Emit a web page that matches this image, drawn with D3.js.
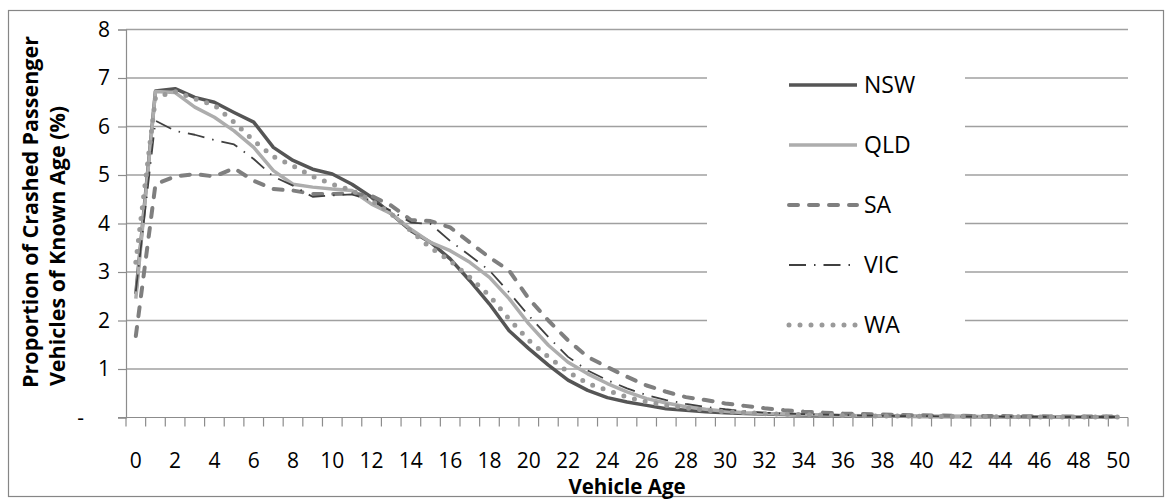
<!DOCTYPE html>
<html>
<head>
<meta charset="utf-8">
<script src="https://cdn.jsdelivr.net/npm/d3@7"></script>
<style>
  body { margin: 0; background: #fff; }
  text { font-family: "Open Sans", "Noto Sans", sans-serif; fill: #000; }
</style>
</head>
<body>
<svg id="chart" width="1170" height="499"></svg>
<script>
// vehicle age categories 0..50
const ages = d3.range(0, 51);
const yTicks = [0, 1, 2, 3, 4, 5, 6, 7, 8];

const nsw = [2.55, 6.73, 6.78, 6.60, 6.50, 6.29, 6.09, 5.57, 5.30, 5.12, 5.02, 4.81, 4.54, 4.20, 3.85,
  3.61, 3.27, 2.82, 2.34, 1.79, 1.42, 1.08, 0.77, 0.56, 0.41, 0.32, 0.25, 0.18, 0.15, 0.12,
  0.10, 0.08, 0.07, 0.06, 0.05, 0.04, 0.035, 0.03, 0.03, 0.025, 0.02, 0.02, 0.02, 0.015, 0.015,
  0.015, 0.01, 0.01, 0.01, 0.01, 0.01];
const qld = [2.45, 6.72, 6.70, 6.40, 6.19, 5.91, 5.57, 5.09, 4.81, 4.75, 4.71, 4.68, 4.40, 4.20, 3.88,
  3.61, 3.44, 3.20, 2.89, 2.45, 1.93, 1.49, 1.14, 0.90, 0.70, 0.53, 0.39, 0.30, 0.22, 0.17,
  0.13, 0.10, 0.08, 0.07, 0.06, 0.05, 0.04, 0.035, 0.03, 0.03, 0.025, 0.02, 0.02, 0.02, 0.015,
  0.015, 0.015, 0.01, 0.01, 0.01, 0.01];
const sa = [1.68, 4.81, 4.97, 5.02, 4.97, 5.14, 4.88, 4.71, 4.68, 4.61, 4.61, 4.62, 4.57, 4.37, 4.07,
  4.05, 3.92, 3.61, 3.30, 3.03, 2.45, 2.00, 1.59, 1.25, 1.04, 0.84, 0.66, 0.53, 0.42, 0.36,
  0.29, 0.24, 0.19, 0.15, 0.12, 0.10, 0.08, 0.07, 0.06, 0.05, 0.045, 0.04, 0.035, 0.03, 0.03,
  0.025, 0.025, 0.02, 0.02, 0.02, 0.02];
const vic = [2.60, 6.12, 5.91, 5.83, 5.72, 5.63, 5.33, 4.97, 4.78, 4.55, 4.58, 4.60, 4.47, 4.26, 4.02,
  3.99, 3.64, 3.34, 3.03, 2.58, 2.10, 1.66, 1.25, 0.97, 0.77, 0.60, 0.46, 0.36, 0.28, 0.22,
  0.17, 0.13, 0.10, 0.08, 0.07, 0.06, 0.05, 0.04, 0.035, 0.03, 0.03, 0.025, 0.02, 0.02, 0.02,
  0.015, 0.015, 0.01, 0.01, 0.01, 0.01];
const wa = [3.20, 6.60, 6.72, 6.57, 6.44, 6.09, 5.71, 5.38, 5.19, 4.97, 4.81, 4.68, 4.47, 4.20, 3.85,
  3.50, 3.23, 2.89, 2.51, 2.03, 1.59, 1.25, 0.94, 0.70, 0.56, 0.42, 0.32, 0.25, 0.20, 0.15,
  0.12, 0.10, 0.08, 0.07, 0.06, 0.05, 0.04, 0.035, 0.03, 0.03, 0.025, 0.02, 0.02, 0.02, 0.015,
  0.015, 0.01, 0.01, 0.01, 0.01, 0.01];

const series = [
  { name: 'NSW', values: nsw, color: '#555555', width: 3.5, dash: null, cap: 'butt' },
  { name: 'QLD', values: qld, color: '#adadad', width: 3.5, dash: null, cap: 'butt' },
  { name: 'SA', values: sa, color: '#7f7f7f', width: 4, dash: '9,11', cap: 'round' },
  { name: 'VIC', values: vic, color: '#404040', width: 1.8, dash: '17,8,1.5,8', cap: 'butt' },
  { name: 'WA', values: wa, color: '#9a9a9a', width: 5, dash: '0,11', cap: 'round' }
];

const svg = d3.select('#chart');

const plotLeft = 126, plotRight = 1128, plotTop = 29.5, plotBottom = 417.5;

const x = d3.scaleBand().domain(ages).range([plotLeft, plotRight]);
const y = d3.scaleLinear().domain([0, 8]).range([plotBottom, plotTop]);

// outer frame
svg.append('rect')
  .attr('x', 8.5).attr('y', 10.5)
  .attr('width', 1155).attr('height', 486)
  .attr('fill', 'none')
  .attr('stroke', '#868686')
  .attr('stroke-width', 1.2);

// horizontal gridlines
svg.append('g')
  .selectAll('line')
  .data(yTicks.filter(d => d > 0))
  .join('line')
  .attr('x1', plotLeft).attr('x2', plotRight)
  .attr('y1', d => y(d)).attr('y2', d => y(d))
  .attr('stroke', '#a0a0a0')
  .attr('stroke-width', 1.3);

// legend background hides gridlines behind it
svg.append('rect')
  .attr('x', 707).attr('y', 55)
  .attr('width', 258).attr('height', 295)
  .attr('fill', '#fff');

// y axis
const yAxis = svg.append('g')
  .attr('transform', `translate(${plotLeft},0)`)
  .call(d3.axisLeft(y).tickValues(yTicks).tickSize(8).tickPadding(11)
    .tickFormat(d => d === 0 ? '-' : d));
yAxis.select('.domain').attr('stroke', '#8c8c8c').attr('stroke-width', 1.2);
yAxis.selectAll('.tick line').attr('stroke', '#8c8c8c').attr('stroke-width', 1.2);
yAxis.selectAll('.tick text')
  .style('font-size', '21px')
  .attr('x', d => d === 0 ? -42 : -16);

// x axis line and ticks at category boundaries
svg.append('line')
  .attr('x1', plotLeft - 8).attr('x2', plotRight)
  .attr('y1', plotBottom).attr('y2', plotBottom)
  .attr('stroke', '#8c8c8c').attr('stroke-width', 1.2);

const bounds = ages.map(a => x(a)).concat([plotRight]);
svg.append('g')
  .selectAll('line')
  .data(bounds)
  .join('line')
  .attr('x1', d => d).attr('x2', d => d)
  .attr('y1', plotBottom).attr('y2', plotBottom + 9)
  .attr('stroke', '#8c8c8c').attr('stroke-width', 1.2);

svg.append('g')
  .selectAll('text')
  .data(ages.filter(a => a % 2 === 0))
  .join('text')
  .attr('x', d => x(d) + x.bandwidth() / 2)
  .attr('y', 468)
  .attr('text-anchor', 'middle')
  .style('font-size', '21px')
  .text(d => d);

// axis titles
svg.append('text')
  .attr('x', 627).attr('y', 494)
  .attr('text-anchor', 'middle')
  .style('font-size', '20.5px').style('font-weight', 'bold')
  .text('Vehicle Age');

svg.append('text')
  .attr('transform', 'translate(38,212) rotate(-90)')
  .attr('text-anchor', 'middle')
  .style('font-size', '21.5px').style('font-weight', 'bold')
  .text('Proportion  of Crashed Passenger');

svg.append('text')
  .attr('transform', 'translate(65,246) rotate(-90)')
  .attr('text-anchor', 'middle')
  .style('font-size', '21.5px').style('font-weight', 'bold')
  .text('Vehicles of Known Age (%)');

// series lines
const line = d3.line()
  .x((d, i) => x(ages[i]) + x.bandwidth() / 2)
  .y(d => y(d));

series.forEach(s => {
  svg.append('path')
    .datum(s.values)
    .attr('d', line)
    .attr('fill', 'none')
    .attr('stroke', s.color)
    .attr('stroke-width', s.width)
    .attr('stroke-dasharray', s.dash)
    .attr('stroke-linecap', s.cap)
    .attr('stroke-linejoin', 'round');
});

// legend
const legend = svg.append('g');
series.forEach((s, i) => {
  const ly = 85 + i * 60;
  legend.append('line')
    .attr('x1', 789).attr('x2', 857)
    .attr('y1', ly).attr('y2', ly)
    .attr('stroke', s.color)
    .attr('stroke-width', s.width)
    .attr('stroke-dasharray', s.dash)
    .attr('stroke-linecap', s.cap);
  legend.append('text')
    .attr('x', 864).attr('y', ly)
    .attr('dy', '0.36em')
    .style('font-size', '23px')
    .text(s.name);
});
</script>
</body>
</html>
